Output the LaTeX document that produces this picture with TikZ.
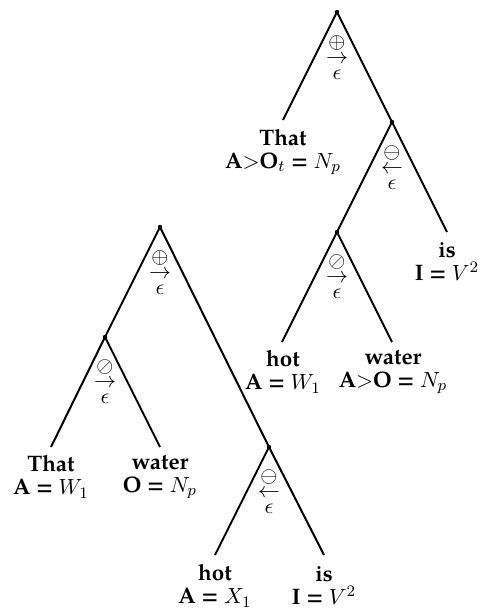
\documentclass[tikz,border=0pt]{standalone}
\usepackage{fontspec}
\setmainfont{TeX Gyre Pagella}
\begin{document}
\begin{tikzpicture}[x=0.5pt,y=-0.5pt,
  br/.style={line width=1pt},
  dotnode/.style={circle,fill,inner sep=0pt,minimum size=2.2pt},
  sym/.style={inner sep=0pt,font=\fontsize{10.5}{11}\selectfont},
  lab/.style={align=center,inner sep=0pt,font=\fontsize{11.2}{11.5}\selectfont}]
\useasboundingbox (0,0) rectangle (478,610);
% ---------- Tree 1 (top right) ----------
\node[dotnode] (a) at (337,12) {};
\coordinate (a1) at (283,120);
\node[dotnode] (b) at (392,122) {};
\coordinate (b2) at (447,232);
\node[dotnode] (c) at (337,232) {};
\coordinate (c1) at (282,342);
\coordinate (c2) at (392,342);
\draw[br] (a.center) -- (a1);
\draw[br] (a.center) -- (b.center);
\draw[br] (b.center) -- (c.center);
\draw[br] (b.center) -- (b2);
\draw[br] (c.center) -- (c1);
\draw[br] (c.center) -- (c2);
\node[sym] (as) at (337,43) {$\oplus$};
\node[sym] (aa) at (337,59) {$\rightarrow$};
\node[sym] (ae) at (337,75) {$\epsilon$};
\node[sym] (bs) at (392,153) {$\ominus$};
\node[sym] (ba) at (392,169) {$\leftarrow$};
\node[sym] (be) at (392,185) {$\epsilon$};
\node[sym] (cs) at (337,262) {$\oslash$};
\node[sym] (ca) at (337,278) {$\rightarrow$};
\node[sym] (ce) at (337,294) {$\epsilon$};
\node[lab] (l1) at (283,152) {\textbf{That}\\\textbf{A}$>$\textbf{O}$_t$ \textbf{=} $N_p$};
\node[lab] (l2) at (447,262) {\textbf{is}\\\textbf{I =} $V^2$};
\node[lab] (l3) at (283,372) {\textbf{hot}\\\textbf{A =} $W_1$};
\node[lab] (l4) at (393,372) {\textbf{water}\\\textbf{A}$>$\textbf{O =} $N_p$};
% ---------- Tree 2 (bottom left) ----------
\node[dotnode] (d) at (160,227) {};
\node[dotnode] (e) at (105,337) {};
\node[dotnode] (f) at (269,447) {};
\coordinate (e1) at (51,447);
\coordinate (e2) at (160,447);
\coordinate (f1) at (215,555);
\coordinate (f2) at (324,555);
\draw[br] (d.center) -- (e.center);
\draw[br] (d.center) -- (f.center);
\draw[br] (e.center) -- (e1);
\draw[br] (e.center) -- (e2);
\draw[br] (f.center) -- (f1);
\draw[br] (f.center) -- (f2);
\node[sym] (ds) at (160,258) {$\oplus$};
\node[sym] (da) at (160,274) {$\rightarrow$};
\node[sym] (de) at (160,290) {$\epsilon$};
\node[sym] (es) at (105,367) {$\oslash$};
\node[sym] (ea) at (105,383) {$\rightarrow$};
\node[sym] (ee) at (105,399) {$\epsilon$};
\node[sym] (fs) at (269,477) {$\ominus$};
\node[sym] (fa) at (269,493) {$\leftarrow$};
\node[sym] (fe) at (269,509) {$\epsilon$};
\node[lab] (m1) at (51,477) {\textbf{That}\\\textbf{A =} $W_1$};
\node[lab] (m2) at (160,477) {\textbf{water}\\\textbf{O =} $N_p$};
\node[lab] (m3) at (215,586) {\textbf{hot}\\\textbf{A =} $X_1$};
\node[lab] (m4) at (324,586) {\textbf{is}\\\textbf{I =} $V^2$};
\end{tikzpicture}
\end{document}
